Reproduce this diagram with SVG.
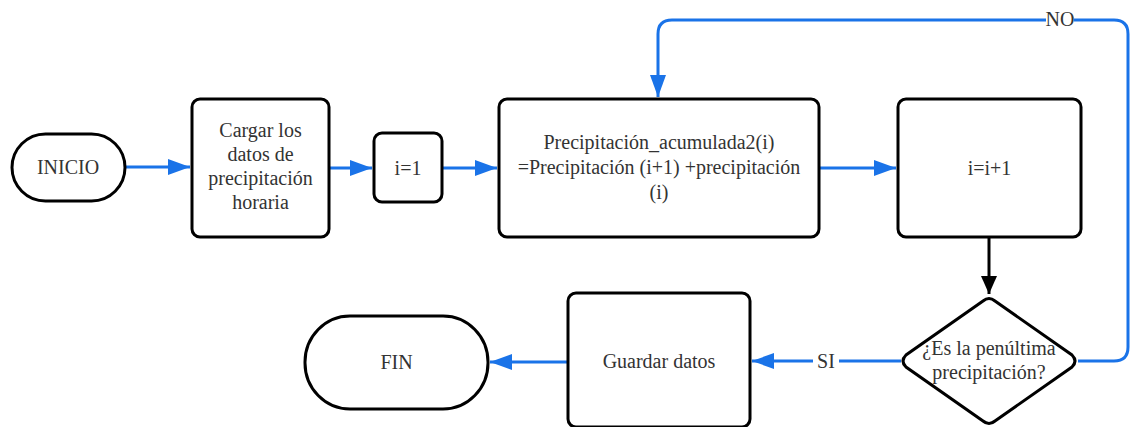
<svg xmlns="http://www.w3.org/2000/svg" width="1133" height="427" viewBox="0 0 1133 427">
<style>
.n{fill:#fff;stroke:#000;stroke-width:3}
.t{font-family:"Liberation Serif",serif;font-size:20px;fill:#333;text-anchor:middle}
.c{fill:none;stroke:#1a73e8;stroke-width:3}
.k{fill:none;stroke:#000;stroke-width:3}
.lb{font-family:"Liberation Serif",serif;font-size:20px;fill:#333;text-anchor:middle}
</style>
<defs>
<marker id="ab" viewBox="0 0 22 16" refX="22" refY="8" markerWidth="22" markerHeight="16" markerUnits="userSpaceOnUse" orient="auto">
<path d="M0,0 L22,8 L0,16 Z" fill="#1a73e8"/>
</marker>
<marker id="ak" viewBox="0 0 18 16" refX="18" refY="8" markerWidth="18" markerHeight="16" markerUnits="userSpaceOnUse" orient="auto">
<path d="M0,0 L18,8 L0,16 Z" fill="#000"/>
</marker>
</defs>
<g id="connectors">
<path class="c" d="M125,167 H190" marker-end="url(#ab)"/>
<path class="c" d="M330,168 H372" marker-end="url(#ab)"/>
<path class="c" d="M443,168 H497" marker-end="url(#ab)"/>
<path class="c" d="M820,168 H896" marker-end="url(#ab)"/>
<path class="k" d="M989,238 V294" marker-end="url(#ak)"/>
<path class="c" d="M901,361 H752" marker-end="url(#ab)"/>
<path class="c" d="M568,362 H490" marker-end="url(#ab)"/>
<path class="c" d="M1078,361 H1114 Q1128,361 1128,347 V34 Q1128,20 1114,20 H672 Q658,20 658,34 V97" marker-end="url(#ab)"/>
<rect x="813" y="350" width="26" height="22" fill="#fff"/>
<text class="lb" x="826" y="368">SI</text>
<rect x="1046" y="9" width="28" height="22" fill="#fff"/>
<text class="lb" x="1060" y="26">NO</text>
</g>
<g id="inicio">
<rect class="n" x="12" y="134" width="113" height="67" rx="33.5"/>
<text class="t" x="68" y="174">INICIO</text>
</g>
<g id="cargar">
<rect class="n" x="192" y="99" width="137" height="138" rx="8"/>
<text class="t" x="260.5" y="137">Cargar los</text>
<text class="t" x="260.5" y="161">datos de</text>
<text class="t" x="260.5" y="185">precipitación</text>
<text class="t" x="260.5" y="209">horaria</text>
</g>
<g id="i1">
<rect class="n" x="374" y="133" width="68" height="69" rx="8"/>
<text class="t" x="408" y="175">i=1</text>
</g>
<g id="precip">
<rect class="n" x="499" y="99" width="320" height="138" rx="8"/>
<text class="t" x="659" y="149">Precipitación_acumulada2(i)</text>
<text class="t" x="659" y="174">=Precipitación (i+1) +precipitación</text>
<text class="t" x="659" y="199">(i)</text>
</g>
<g id="iinc">
<rect class="n" x="898" y="99" width="183" height="138" rx="8"/>
<text class="t" x="989.5" y="175">i=i+1</text>
</g>
<g id="decision">
<path class="n" d="M983,301 Q989,296 995,301 L1072,355 Q1078,361 1072,367 L995,421 Q989,426 983,421 L906,367 Q900,361 906,355 Z"/>
<text class="t" x="989" y="355">¿Es la penúltima</text>
<text class="t" x="989" y="379">precipitación?</text>
</g>
<g id="guardar">
<rect class="n" x="568" y="293" width="182" height="134" rx="8"/>
<text class="t" x="659" y="368">Guardar datos</text>
</g>
<g id="fin">
<rect class="n" x="305" y="316" width="183" height="93" rx="45" ry="46"/>
<text class="t" x="396.5" y="369">FIN</text>
</g>
</svg>
